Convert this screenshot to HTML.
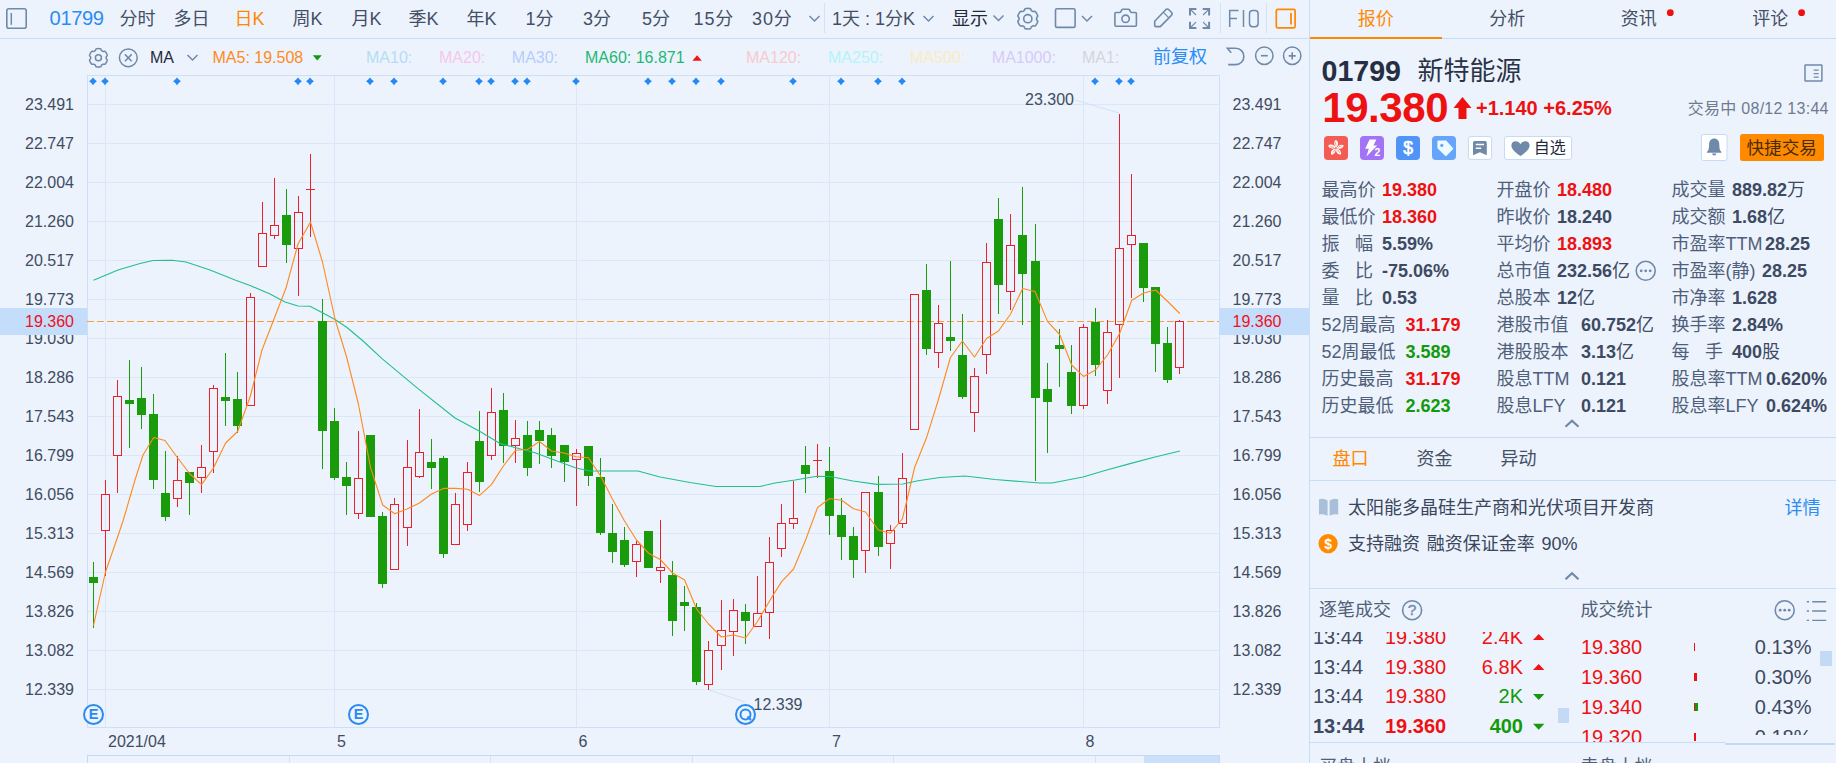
<!DOCTYPE html>
<html lang="zh-CN"><head><meta charset="utf-8"><title>01799 新特能源</title>
<style>
html,body{margin:0;padding:0}
body{width:1836px;height:763px;overflow:hidden;position:relative;background:#edf3fc;
font-family:"Liberation Sans","Noto Sans CJK SC",sans-serif;}
.t{position:absolute;height:30px;line-height:30px;white-space:nowrap}
.chart,.ov{position:absolute;left:0;top:0}
.hl{position:absolute;height:1px;background:#c7dcf6}
.vl{position:absolute;width:1px;background:#c7dcf6}
.b{font-weight:bold}
.clip{position:absolute;overflow:hidden}
.g{display:inline-block;width:15.6px}
u{text-decoration:none;font-weight:normal}
</style></head><body>
<svg class="chart" width="1310" height="763" viewBox="0 0 1310 763">
<g shape-rendering="crispEdges" stroke="#d9e7f8" stroke-width="1" fill="none">
<path d="M88 104.5H1219"/>
<path d="M88 143.5H1219"/>
<path d="M88 182.5H1219"/>
<path d="M88 221.5H1219"/>
<path d="M88 260.5H1219"/>
<path d="M88 299.5H1219"/>
<path d="M88 338.5H1219"/>
<path d="M88 377.5H1219"/>
<path d="M88 416.5H1219"/>
<path d="M88 455.5H1219"/>
<path d="M88 494.5H1219"/>
<path d="M88 533.5H1219"/>
<path d="M88 572.5H1219"/>
<path d="M88 611.5H1219"/>
<path d="M88 650.5H1219"/>
<path d="M88 689.5H1219"/>
<path d="M105.5 76V727"/>
<path d="M334.5 76V727"/>
<path d="M576.5 76V727"/>
<path d="M829.5 76V727"/>
<path d="M1083.5 76V727"/>
</g>
<g shape-rendering="crispEdges" stroke="#cde0f7" stroke-width="1" fill="none">
<path d="M87.5 75.5H1219.5V727.5H87.5Z"/>
</g>
<g shape-rendering="crispEdges">
<rect x="1144" y="756" width="75" height="7" fill="#cbdffa"/>
<path d="M87.5 763V755.5H1219.5V763" stroke="#c3daf6" fill="none"/>
<path d="M289.5 756V763" stroke="#d3e4f8" fill="none"/>
<path d="M490.5 756V763" stroke="#d3e4f8" fill="none"/>
<path d="M692.5 756V763" stroke="#d3e4f8" fill="none"/>
<path d="M893.5 756V763" stroke="#d3e4f8" fill="none"/>
<path d="M1095.5 756V763" stroke="#d3e4f8" fill="none"/>
</g>
<g fill="#2389f3">
<path d="M89.1 81.3L91.25 79.55L93 77.39999999999999L94.75 79.55L96.9 81.3L94.75 83.05L93 85.2L91.25 83.05Z"/>
<path d="M101.1 81.3L103.25 79.55L105 77.39999999999999L106.75 79.55L108.9 81.3L106.75 83.05L105 85.2L103.25 83.05Z"/>
<path d="M173.1 81.3L175.25 79.55L177 77.39999999999999L178.75 79.55L180.9 81.3L178.75 83.05L177 85.2L175.25 83.05Z"/>
<path d="M294.1 81.3L296.25 79.55L298 77.39999999999999L299.75 79.55L301.9 81.3L299.75 83.05L298 85.2L296.25 83.05Z"/>
<path d="M306.1 81.3L308.25 79.55L310 77.39999999999999L311.75 79.55L313.9 81.3L311.75 83.05L310 85.2L308.25 83.05Z"/>
<path d="M366.1 81.3L368.25 79.55L370 77.39999999999999L371.75 79.55L373.9 81.3L371.75 83.05L370 85.2L368.25 83.05Z"/>
<path d="M390.1 81.3L392.25 79.55L394 77.39999999999999L395.75 79.55L397.9 81.3L395.75 83.05L394 85.2L392.25 83.05Z"/>
<path d="M439.1 81.3L441.25 79.55L443 77.39999999999999L444.75 79.55L446.9 81.3L444.75 83.05L443 85.2L441.25 83.05Z"/>
<path d="M475.1 81.3L477.25 79.55L479 77.39999999999999L480.75 79.55L482.9 81.3L480.75 83.05L479 85.2L477.25 83.05Z"/>
<path d="M487.1 81.3L489.25 79.55L491 77.39999999999999L492.75 79.55L494.9 81.3L492.75 83.05L491 85.2L489.25 83.05Z"/>
<path d="M511.1 81.3L513.25 79.55L515 77.39999999999999L516.75 79.55L518.9 81.3L516.75 83.05L515 85.2L513.25 83.05Z"/>
<path d="M523.1 81.3L525.25 79.55L527 77.39999999999999L528.75 79.55L530.9 81.3L528.75 83.05L527 85.2L525.25 83.05Z"/>
<path d="M572.1 81.3L574.25 79.55L576 77.39999999999999L577.75 79.55L579.9 81.3L577.75 83.05L576 85.2L574.25 83.05Z"/>
<path d="M644.1 81.3L646.25 79.55L648 77.39999999999999L649.75 79.55L651.9 81.3L649.75 83.05L648 85.2L646.25 83.05Z"/>
<path d="M668.1 81.3L670.25 79.55L672 77.39999999999999L673.75 79.55L675.9 81.3L673.75 83.05L672 85.2L670.25 83.05Z"/>
<path d="M692.1 81.3L694.25 79.55L696 77.39999999999999L697.75 79.55L699.9 81.3L697.75 83.05L696 85.2L694.25 83.05Z"/>
<path d="M717.1 81.3L719.25 79.55L721 77.39999999999999L722.75 79.55L724.9 81.3L722.75 83.05L721 85.2L719.25 83.05Z"/>
<path d="M789.1 81.3L791.25 79.55L793 77.39999999999999L794.75 79.55L796.9 81.3L794.75 83.05L793 85.2L791.25 83.05Z"/>
<path d="M837.1 81.3L839.25 79.55L841 77.39999999999999L842.75 79.55L844.9 81.3L842.75 83.05L841 85.2L839.25 83.05Z"/>
<path d="M874.1 81.3L876.25 79.55L878 77.39999999999999L879.75 79.55L881.9 81.3L879.75 83.05L878 85.2L876.25 83.05Z"/>
<path d="M898.1 81.3L900.25 79.55L902 77.39999999999999L903.75 79.55L905.9 81.3L903.75 83.05L902 85.2L900.25 83.05Z"/>
<path d="M1091.1 81.3L1093.25 79.55L1095 77.39999999999999L1096.75 79.55L1098.9 81.3L1096.75 83.05L1095 85.2L1093.25 83.05Z"/>
<path d="M1115.1 81.3L1117.25 79.55L1119 77.39999999999999L1120.75 79.55L1122.9 81.3L1120.75 83.05L1119 85.2L1117.25 83.05Z"/>
<path d="M1127.1 81.3L1129.25 79.55L1131 77.39999999999999L1132.75 79.55L1134.9 81.3L1132.75 83.05L1131 85.2L1129.25 83.05Z"/>
</g>
<path d="M87 321.5H1219" stroke="#f2a043" stroke-width="1" stroke-dasharray="7 3" shape-rendering="crispEdges" fill="none"/>
<g shape-rendering="crispEdges">
<rect x="93" y="562" width="1" height="66" fill="#1a9b0b"/>
<rect x="89" y="577" width="9" height="6" fill="#1a9b0b"/>
<rect x="105" y="480" width="1" height="14" fill="#e8212a"/>
<rect x="105" y="531" width="1" height="45" fill="#e8212a"/>
<rect x="101.5" y="494.5" width="8" height="36" fill="none" stroke="#e8212a" stroke-width="1"/>
<rect x="117" y="380" width="1" height="16" fill="#e8212a"/>
<rect x="117" y="456" width="1" height="37" fill="#e8212a"/>
<rect x="113.5" y="396.5" width="8" height="59" fill="none" stroke="#e8212a" stroke-width="1"/>
<rect x="129" y="360" width="1" height="88" fill="#1a9b0b"/>
<rect x="125" y="400" width="9" height="4" fill="#1a9b0b"/>
<rect x="141" y="367" width="1" height="62" fill="#1a9b0b"/>
<rect x="137" y="398" width="9" height="17" fill="#1a9b0b"/>
<rect x="153" y="394" width="1" height="95" fill="#1a9b0b"/>
<rect x="149" y="414" width="9" height="66" fill="#1a9b0b"/>
<rect x="165" y="451" width="1" height="70" fill="#1a9b0b"/>
<rect x="161" y="493" width="9" height="24" fill="#1a9b0b"/>
<rect x="177" y="456" width="1" height="24" fill="#e8212a"/>
<rect x="177" y="499" width="1" height="8" fill="#e8212a"/>
<rect x="173.5" y="480.5" width="8" height="18" fill="none" stroke="#e8212a" stroke-width="1"/>
<rect x="189" y="472" width="1" height="43" fill="#1a9b0b"/>
<rect x="185" y="472" width="9" height="11" fill="#1a9b0b"/>
<rect x="201" y="445" width="1" height="22" fill="#e8212a"/>
<rect x="201" y="478" width="1" height="15" fill="#e8212a"/>
<rect x="197.5" y="467.5" width="8" height="10" fill="none" stroke="#e8212a" stroke-width="1"/>
<rect x="213" y="385" width="1" height="3" fill="#e8212a"/>
<rect x="213" y="452" width="1" height="21" fill="#e8212a"/>
<rect x="209.5" y="388.5" width="8" height="63" fill="none" stroke="#e8212a" stroke-width="1"/>
<rect x="225" y="353" width="1" height="73" fill="#1a9b0b"/>
<rect x="221" y="397" width="9" height="4" fill="#1a9b0b"/>
<rect x="237" y="372" width="1" height="61" fill="#1a9b0b"/>
<rect x="233" y="399" width="9" height="27" fill="#1a9b0b"/>
<rect x="250" y="293" width="1" height="4" fill="#e8212a"/>
<rect x="246.5" y="297.5" width="8" height="108" fill="none" stroke="#e8212a" stroke-width="1"/>
<rect x="262" y="202" width="1" height="31" fill="#e8212a"/>
<rect x="258.5" y="233.5" width="8" height="33" fill="none" stroke="#e8212a" stroke-width="1"/>
<rect x="274" y="178" width="1" height="47" fill="#e8212a"/>
<rect x="274" y="236" width="1" height="3" fill="#e8212a"/>
<rect x="270.5" y="225.5" width="8" height="10" fill="none" stroke="#e8212a" stroke-width="1"/>
<rect x="286" y="189" width="1" height="74" fill="#1a9b0b"/>
<rect x="282" y="215" width="9" height="30" fill="#1a9b0b"/>
<rect x="298" y="196" width="1" height="16" fill="#e8212a"/>
<rect x="298" y="249" width="1" height="47" fill="#e8212a"/>
<rect x="294.5" y="212.5" width="8" height="36" fill="none" stroke="#e8212a" stroke-width="1"/>
<rect x="310" y="154" width="1" height="35" fill="#e8212a"/>
<rect x="310" y="189" width="1" height="48" fill="#e8212a"/>
<rect x="306" y="189" width="9" height="1" fill="#e8212a"/>
<rect x="322" y="299" width="1" height="170" fill="#1a9b0b"/>
<rect x="318" y="321" width="9" height="110" fill="#1a9b0b"/>
<rect x="334" y="408" width="1" height="72" fill="#1a9b0b"/>
<rect x="330" y="421" width="9" height="57" fill="#1a9b0b"/>
<rect x="346" y="462" width="1" height="53" fill="#1a9b0b"/>
<rect x="342" y="477" width="9" height="9" fill="#1a9b0b"/>
<rect x="358" y="431" width="1" height="47" fill="#e8212a"/>
<rect x="358" y="514" width="1" height="5" fill="#e8212a"/>
<rect x="354.5" y="478.5" width="8" height="35" fill="none" stroke="#e8212a" stroke-width="1"/>
<rect x="370" y="435" width="1" height="82" fill="#1a9b0b"/>
<rect x="366" y="435" width="9" height="82" fill="#1a9b0b"/>
<rect x="382" y="512" width="1" height="76" fill="#1a9b0b"/>
<rect x="378" y="516" width="9" height="68" fill="#1a9b0b"/>
<rect x="394" y="498" width="1" height="6" fill="#e8212a"/>
<rect x="390.5" y="504.5" width="8" height="65" fill="none" stroke="#e8212a" stroke-width="1"/>
<rect x="407" y="440" width="1" height="27" fill="#e8212a"/>
<rect x="407" y="528" width="1" height="18" fill="#e8212a"/>
<rect x="403.5" y="467.5" width="8" height="60" fill="none" stroke="#e8212a" stroke-width="1"/>
<rect x="419" y="409" width="1" height="43" fill="#e8212a"/>
<rect x="419" y="477" width="1" height="1" fill="#e8212a"/>
<rect x="415.5" y="452.5" width="8" height="24" fill="none" stroke="#e8212a" stroke-width="1"/>
<rect x="431" y="439" width="1" height="50" fill="#1a9b0b"/>
<rect x="427" y="462" width="9" height="6" fill="#1a9b0b"/>
<rect x="443" y="456" width="1" height="102" fill="#1a9b0b"/>
<rect x="439" y="458" width="9" height="96" fill="#1a9b0b"/>
<rect x="455" y="493" width="1" height="11" fill="#e8212a"/>
<rect x="451.5" y="504.5" width="8" height="40" fill="none" stroke="#e8212a" stroke-width="1"/>
<rect x="467" y="462" width="1" height="10" fill="#e8212a"/>
<rect x="467" y="525" width="1" height="6" fill="#e8212a"/>
<rect x="463.5" y="472.5" width="8" height="52" fill="none" stroke="#e8212a" stroke-width="1"/>
<rect x="479" y="411" width="1" height="81" fill="#1a9b0b"/>
<rect x="475" y="441" width="9" height="41" fill="#1a9b0b"/>
<rect x="491" y="388" width="1" height="24" fill="#e8212a"/>
<rect x="491" y="456" width="1" height="4" fill="#e8212a"/>
<rect x="487.5" y="412.5" width="8" height="43" fill="none" stroke="#e8212a" stroke-width="1"/>
<rect x="503" y="393" width="1" height="70" fill="#1a9b0b"/>
<rect x="499" y="410" width="9" height="36" fill="#1a9b0b"/>
<rect x="515" y="420" width="1" height="18" fill="#e8212a"/>
<rect x="515" y="446" width="1" height="17" fill="#e8212a"/>
<rect x="511.5" y="438.5" width="8" height="7" fill="none" stroke="#e8212a" stroke-width="1"/>
<rect x="527" y="421" width="1" height="55" fill="#1a9b0b"/>
<rect x="523" y="435" width="9" height="33" fill="#1a9b0b"/>
<rect x="539" y="421" width="1" height="43" fill="#1a9b0b"/>
<rect x="535" y="430" width="9" height="11" fill="#1a9b0b"/>
<rect x="551" y="428" width="1" height="40" fill="#1a9b0b"/>
<rect x="547" y="435" width="9" height="21" fill="#1a9b0b"/>
<rect x="564" y="445" width="1" height="37" fill="#1a9b0b"/>
<rect x="560" y="445" width="9" height="17" fill="#1a9b0b"/>
<rect x="576" y="449" width="1" height="4" fill="#e8212a"/>
<rect x="576" y="460" width="1" height="46" fill="#e8212a"/>
<rect x="572.5" y="453.5" width="8" height="6" fill="none" stroke="#e8212a" stroke-width="1"/>
<rect x="588" y="446" width="1" height="40" fill="#1a9b0b"/>
<rect x="584" y="446" width="9" height="30" fill="#1a9b0b"/>
<rect x="600" y="458" width="1" height="77" fill="#1a9b0b"/>
<rect x="596" y="477" width="9" height="56" fill="#1a9b0b"/>
<rect x="612" y="504" width="1" height="59" fill="#1a9b0b"/>
<rect x="608" y="533" width="9" height="19" fill="#1a9b0b"/>
<rect x="624" y="527" width="1" height="40" fill="#1a9b0b"/>
<rect x="620" y="540" width="9" height="25" fill="#1a9b0b"/>
<rect x="636" y="541" width="1" height="3" fill="#e8212a"/>
<rect x="636" y="562" width="1" height="15" fill="#e8212a"/>
<rect x="632.5" y="544.5" width="8" height="17" fill="none" stroke="#e8212a" stroke-width="1"/>
<rect x="648" y="531" width="1" height="37" fill="#1a9b0b"/>
<rect x="644" y="531" width="9" height="37" fill="#1a9b0b"/>
<rect x="660" y="520" width="1" height="47" fill="#e8212a"/>
<rect x="660" y="571" width="1" height="12" fill="#e8212a"/>
<rect x="656.5" y="567.5" width="8" height="3" fill="none" stroke="#e8212a" stroke-width="1"/>
<rect x="672" y="561" width="1" height="75" fill="#1a9b0b"/>
<rect x="668" y="575" width="9" height="46" fill="#1a9b0b"/>
<rect x="684" y="586" width="1" height="45" fill="#1a9b0b"/>
<rect x="680" y="602" width="9" height="4" fill="#1a9b0b"/>
<rect x="696" y="603" width="1" height="82" fill="#1a9b0b"/>
<rect x="692" y="607" width="9" height="75" fill="#1a9b0b"/>
<rect x="708" y="641" width="1" height="9" fill="#e8212a"/>
<rect x="708" y="685" width="1" height="5" fill="#e8212a"/>
<rect x="704.5" y="650.5" width="8" height="34" fill="none" stroke="#e8212a" stroke-width="1"/>
<rect x="721" y="600" width="1" height="30" fill="#e8212a"/>
<rect x="721" y="646" width="1" height="24" fill="#e8212a"/>
<rect x="717.5" y="630.5" width="8" height="15" fill="none" stroke="#e8212a" stroke-width="1"/>
<rect x="733" y="599" width="1" height="11" fill="#e8212a"/>
<rect x="733" y="632" width="1" height="24" fill="#e8212a"/>
<rect x="729.5" y="610.5" width="8" height="21" fill="none" stroke="#e8212a" stroke-width="1"/>
<rect x="745" y="604" width="1" height="40" fill="#1a9b0b"/>
<rect x="741" y="612" width="9" height="9" fill="#1a9b0b"/>
<rect x="757" y="576" width="1" height="37" fill="#e8212a"/>
<rect x="753.5" y="613.5" width="8" height="13" fill="none" stroke="#e8212a" stroke-width="1"/>
<rect x="769" y="537" width="1" height="25" fill="#e8212a"/>
<rect x="769" y="613" width="1" height="26" fill="#e8212a"/>
<rect x="765.5" y="562.5" width="8" height="50" fill="none" stroke="#e8212a" stroke-width="1"/>
<rect x="781" y="504" width="1" height="19" fill="#e8212a"/>
<rect x="781" y="549" width="1" height="8" fill="#e8212a"/>
<rect x="777.5" y="523.5" width="8" height="25" fill="none" stroke="#e8212a" stroke-width="1"/>
<rect x="793" y="481" width="1" height="37" fill="#e8212a"/>
<rect x="793" y="524" width="1" height="5" fill="#e8212a"/>
<rect x="789.5" y="518.5" width="8" height="5" fill="none" stroke="#e8212a" stroke-width="1"/>
<rect x="805" y="446" width="1" height="47" fill="#1a9b0b"/>
<rect x="801" y="465" width="9" height="9" fill="#1a9b0b"/>
<rect x="817" y="444" width="1" height="16" fill="#e8212a"/>
<rect x="817" y="460" width="1" height="18" fill="#e8212a"/>
<rect x="813" y="460" width="9" height="1" fill="#e8212a"/>
<rect x="829" y="447" width="1" height="88" fill="#1a9b0b"/>
<rect x="825" y="471" width="9" height="45" fill="#1a9b0b"/>
<rect x="841" y="498" width="1" height="62" fill="#1a9b0b"/>
<rect x="837" y="515" width="9" height="22" fill="#1a9b0b"/>
<rect x="853" y="527" width="1" height="51" fill="#1a9b0b"/>
<rect x="849" y="536" width="9" height="24" fill="#1a9b0b"/>
<rect x="865" y="551" width="1" height="22" fill="#e8212a"/>
<rect x="861.5" y="492.5" width="8" height="58" fill="none" stroke="#e8212a" stroke-width="1"/>
<rect x="878" y="476" width="1" height="80" fill="#1a9b0b"/>
<rect x="874" y="492" width="9" height="55" fill="#1a9b0b"/>
<rect x="890" y="525" width="1" height="5" fill="#e8212a"/>
<rect x="890" y="544" width="1" height="25" fill="#e8212a"/>
<rect x="886.5" y="530.5" width="8" height="13" fill="none" stroke="#e8212a" stroke-width="1"/>
<rect x="902" y="453" width="1" height="25" fill="#e8212a"/>
<rect x="902" y="524" width="1" height="4" fill="#e8212a"/>
<rect x="898.5" y="478.5" width="8" height="45" fill="none" stroke="#e8212a" stroke-width="1"/>
<rect x="910.5" y="294.5" width="8" height="135" fill="none" stroke="#e8212a" stroke-width="1"/>
<rect x="926" y="264" width="1" height="91" fill="#1a9b0b"/>
<rect x="922" y="290" width="9" height="59" fill="#1a9b0b"/>
<rect x="938" y="305" width="1" height="18" fill="#e8212a"/>
<rect x="938" y="353" width="1" height="15" fill="#e8212a"/>
<rect x="934.5" y="323.5" width="8" height="29" fill="none" stroke="#e8212a" stroke-width="1"/>
<rect x="950" y="261" width="1" height="90" fill="#1a9b0b"/>
<rect x="946" y="337" width="9" height="4" fill="#1a9b0b"/>
<rect x="962" y="314" width="1" height="85" fill="#1a9b0b"/>
<rect x="958" y="355" width="9" height="42" fill="#1a9b0b"/>
<rect x="974" y="368" width="1" height="8" fill="#e8212a"/>
<rect x="974" y="413" width="1" height="19" fill="#e8212a"/>
<rect x="970.5" y="376.5" width="8" height="36" fill="none" stroke="#e8212a" stroke-width="1"/>
<rect x="986" y="243" width="1" height="19" fill="#e8212a"/>
<rect x="986" y="355" width="1" height="19" fill="#e8212a"/>
<rect x="982.5" y="262.5" width="8" height="92" fill="none" stroke="#e8212a" stroke-width="1"/>
<rect x="998" y="198" width="1" height="116" fill="#1a9b0b"/>
<rect x="994" y="219" width="9" height="66" fill="#1a9b0b"/>
<rect x="1010" y="214" width="1" height="31" fill="#e8212a"/>
<rect x="1010" y="292" width="1" height="18" fill="#e8212a"/>
<rect x="1006.5" y="245.5" width="8" height="46" fill="none" stroke="#e8212a" stroke-width="1"/>
<rect x="1022" y="187" width="1" height="138" fill="#1a9b0b"/>
<rect x="1018" y="235" width="9" height="39" fill="#1a9b0b"/>
<rect x="1035" y="224" width="1" height="257" fill="#1a9b0b"/>
<rect x="1031" y="261" width="9" height="137" fill="#1a9b0b"/>
<rect x="1047" y="363" width="1" height="90" fill="#1a9b0b"/>
<rect x="1043" y="389" width="9" height="13" fill="#1a9b0b"/>
<rect x="1059" y="329" width="1" height="58" fill="#1a9b0b"/>
<rect x="1055" y="345" width="9" height="4" fill="#1a9b0b"/>
<rect x="1071" y="345" width="1" height="69" fill="#1a9b0b"/>
<rect x="1067" y="372" width="9" height="34" fill="#1a9b0b"/>
<rect x="1083" y="324" width="1" height="3" fill="#e8212a"/>
<rect x="1083" y="406" width="1" height="3" fill="#e8212a"/>
<rect x="1079.5" y="327.5" width="8" height="78" fill="none" stroke="#e8212a" stroke-width="1"/>
<rect x="1095" y="308" width="1" height="68" fill="#1a9b0b"/>
<rect x="1091" y="322" width="9" height="43" fill="#1a9b0b"/>
<rect x="1107" y="320" width="1" height="12" fill="#e8212a"/>
<rect x="1107" y="391" width="1" height="13" fill="#e8212a"/>
<rect x="1103.5" y="332.5" width="8" height="58" fill="none" stroke="#e8212a" stroke-width="1"/>
<rect x="1119" y="114" width="1" height="134" fill="#e8212a"/>
<rect x="1119" y="325" width="1" height="53" fill="#e8212a"/>
<rect x="1115.5" y="248.5" width="8" height="76" fill="none" stroke="#e8212a" stroke-width="1"/>
<rect x="1131" y="174" width="1" height="61" fill="#e8212a"/>
<rect x="1131" y="245" width="1" height="53" fill="#e8212a"/>
<rect x="1127.5" y="235.5" width="8" height="9" fill="none" stroke="#e8212a" stroke-width="1"/>
<rect x="1143" y="243" width="1" height="59" fill="#1a9b0b"/>
<rect x="1139" y="243" width="9" height="45" fill="#1a9b0b"/>
<rect x="1155" y="287" width="1" height="85" fill="#1a9b0b"/>
<rect x="1151" y="287" width="9" height="57" fill="#1a9b0b"/>
<rect x="1167" y="327" width="1" height="56" fill="#1a9b0b"/>
<rect x="1163" y="343" width="9" height="37" fill="#1a9b0b"/>
<rect x="1179" y="320" width="1" height="1" fill="#e8212a"/>
<rect x="1179" y="368" width="1" height="6" fill="#e8212a"/>
<rect x="1175.5" y="321.5" width="8" height="46" fill="none" stroke="#e8212a" stroke-width="1"/>
</g>
<path d="M93.5 280.3 L118.0 270.0 L140.0 263.5 L153.0 260.5 L172.0 260.3 L186.0 262.0 L210.0 270.0 L235.0 280.0 L250.0 285.5 L270.0 294.0 L285.0 302.0 L298.0 306.0 L310.0 306.3 L322.0 312.5 L335.0 319.5 L347.0 327.5 L363.0 341.0 L382.0 358.6 L418.0 388.6 L455.0 418.0 L480.0 431.5 L500.0 443.5 L515.0 447.5 L535.0 452.8 L545.0 456.5 L576.0 468.0 L590.0 471.0 L638.0 471.0 L660.0 477.0 L690.0 482.5 L716.0 486.5 L760.0 486.5 L775.0 483.0 L795.0 480.0 L817.0 476.2 L830.0 476.5 L853.0 481.0 L877.0 484.4 L903.0 484.0 L918.0 480.7 L940.0 477.5 L965.0 476.0 L995.0 479.5 L1020.0 481.5 L1040.0 483.0 L1052.0 483.0 L1083.0 477.0 L1105.0 470.5 L1130.0 463.6 L1155.0 457.0 L1180.0 451.0" stroke="#21c08c" stroke-width="1.12" fill="none" stroke-linejoin="round"/>
<path d="M93.5 625.3 L105.5 572.0 L117.6 537.0 L123.0 521.0 L135.0 480.0 L143.0 455.0 L153.7 437.5 L165.0 440.5 L177.7 458.0 L190.0 474.0 L201.5 484.6 L213.5 468.0 L225.6 443.0 L237.6 431.5 L250.4 396.0 L262.0 350.0 L274.4 318.0 L286.0 288.0 L298.0 244.0 L310.5 222.0 L322.5 262.0 L335.0 319.0 L346.6 357.0 L358.4 404.0 L370.6 467.8 L382.7 505.0 L394.7 513.7 L407.0 509.0 L419.5 503.0 L431.5 494.0 L443.6 488.4 L455.6 488.4 L467.6 489.3 L479.6 495.4 L491.4 484.6 L503.4 466.0 L515.5 450.3 L527.5 449.5 L539.5 441.5 L551.5 451.0 L564.0 453.0 L576.0 456.7 L588.4 457.7 L600.6 476.0 L612.4 499.0 L624.5 521.0 L636.5 540.0 L648.5 553.2 L660.5 559.7 L672.6 573.0 L684.6 580.0 L696.6 609.0 L708.6 624.0 L721.4 637.0 L733.4 635.0 L745.5 638.0 L757.5 621.5 L769.5 601.0 L781.6 581.6 L793.6 569.0 L805.6 540.0 L817.6 507.5 L829.7 498.5 L841.7 500.3 L853.5 508.8 L865.5 512.0 L878.3 530.0 L890.3 533.3 L902.3 519.0 L907.0 500.0 L914.6 467.5 L926.5 437.8 L938.6 399.0 L950.4 357.5 L962.4 341.0 L974.5 357.0 L986.5 338.5 L998.5 331.0 L1010.6 314.0 L1022.6 288.5 L1035.0 291.5 L1047.6 321.6 L1059.7 334.5 L1071.7 365.0 L1083.5 376.4 L1095.5 370.0 L1107.5 355.0 L1119.6 333.5 L1131.6 300.5 L1143.6 293.0 L1155.6 290.0 L1167.7 301.5 L1179.7 313.5" stroke="#ff8a1f" stroke-width="1.12" fill="none" stroke-linejoin="round"/>
<path d="M1075 100L1119 113" stroke="#cfe2f8" stroke-width="1" fill="none"/>
<path d="M709 690L745 702" stroke="#cfe2f8" stroke-width="1" fill="none"/>
<rect x="0" y="308" width="87" height="27" fill="#c3ddfb" shape-rendering="crispEdges"/>
<rect x="1219" y="308" width="90" height="27" fill="#c3ddfb" shape-rendering="crispEdges"/>
<g font-family="'Liberation Sans',sans-serif" font-size="16" fill="#404c62">
<text x="25" y="109.7">23.491</text>
<text x="1232.5" y="109.7">23.491</text>
<text x="25" y="148.7">22.747</text>
<text x="1232.5" y="148.7">22.747</text>
<text x="25" y="187.7">22.004</text>
<text x="1232.5" y="187.7">22.004</text>
<text x="25" y="226.7">21.260</text>
<text x="1232.5" y="226.7">21.260</text>
<text x="25" y="265.7">20.517</text>
<text x="1232.5" y="265.7">20.517</text>
<text x="25" y="304.7">19.773</text>
<text x="1232.5" y="304.7">19.773</text>
<text x="25" y="343.7" clip-path="url(#cl)">19.030</text>
<text x="1232.5" y="343.7" clip-path="url(#cl)">19.030</text>
<text x="25" y="382.7">18.286</text>
<text x="1232.5" y="382.7">18.286</text>
<text x="25" y="421.7">17.543</text>
<text x="1232.5" y="421.7">17.543</text>
<text x="25" y="460.7">16.799</text>
<text x="1232.5" y="460.7">16.799</text>
<text x="25" y="499.7">16.056</text>
<text x="1232.5" y="499.7">16.056</text>
<text x="25" y="538.7">15.313</text>
<text x="1232.5" y="538.7">15.313</text>
<text x="25" y="577.7">14.569</text>
<text x="1232.5" y="577.7">14.569</text>
<text x="25" y="616.7">13.826</text>
<text x="1232.5" y="616.7">13.826</text>
<text x="25" y="655.7">13.082</text>
<text x="1232.5" y="655.7">13.082</text>
<text x="25" y="694.7">12.339</text>
<text x="1232.5" y="694.7">12.339</text>
<text x="1025" y="105.2">23.300</text>
<text x="753.5" y="710">12.339</text>
<text x="108" y="747">2021/04</text>
<text x="337" y="747">5</text>
<text x="578.5" y="747">6</text>
<text x="832" y="747">7</text>
<text x="1085.5" y="747">8</text>
</g>
<defs><clipPath id="cl"><rect x="0" y="335" width="1310" height="30"/></clipPath></defs>
<g font-family="'Liberation Sans',sans-serif" font-size="16" fill="#ee1122">
<text x="25" y="326.8">19.360</text><text x="1232.5" y="326.8">19.360</text>
</g>
<circle cx="93.5" cy="714.5" r="9.5" fill="#edf4fd" stroke="#2b8af0" stroke-width="2"/>
<text x="93.5" y="719.4" text-anchor="middle" font-family="'Liberation Sans',sans-serif" font-size="14.5" font-weight="bold" fill="#2b8af0">E</text>
<circle cx="358.5" cy="714.5" r="9.5" fill="#edf4fd" stroke="#2b8af0" stroke-width="2"/>
<text x="358.5" y="719.4" text-anchor="middle" font-family="'Liberation Sans',sans-serif" font-size="14.5" font-weight="bold" fill="#2b8af0">E</text>
<circle cx="745.5" cy="714.5" r="9.5" fill="#edf4fd" stroke="#2b8af0" stroke-width="2"/>
<circle cx="745.5" cy="714.5" r="5" fill="none" stroke="#2b8af0" stroke-width="2"/>
<path d="M747.5 716.5L751 720" stroke="#2b8af0" stroke-width="2" fill="none"/>
</svg>
<div class="hl" style="left:0;top:38px;width:1836px"></div>
<div class="vl" style="left:1309px;top:0;height:763px"></div>
<div class="hl" style="left:1310px;top:37px;width:132px;height:2px;background:#ff8800"></div>
<div class="hl" style="left:1310px;top:437px;width:526px"></div>
<div class="hl" style="left:1310px;top:480px;width:526px"></div>
<div class="hl" style="left:1310px;top:588px;width:526px"></div>
<div class="hl" style="left:1310px;top:742px;width:415px"></div>
<div class="hl" style="left:1725px;top:743px;width:110px;height:2px;background:#c1d9f5"></div>
<div class="t " style="left:49.6px;top:2.8000000000000007px;font-size:20.2px;color:#2b8cf5;font-weight:normal;letter-spacing:-0.42px">01799</div>
<div class="t " style="left:119.5px;top:4px;font-size:18px;color:#444f66;font-weight:normal;">分时</div>
<div class="t " style="left:173.5px;top:4px;font-size:18px;color:#444f66;font-weight:normal;">多日</div>
<div class="t " style="left:234.6px;top:4px;font-size:18px;color:#ff8800;font-weight:normal;">日K</div>
<div class="t " style="left:292.5px;top:4px;font-size:18px;color:#444f66;font-weight:normal;">周K</div>
<div class="t " style="left:351.5px;top:4px;font-size:18px;color:#444f66;font-weight:normal;">月K</div>
<div class="t " style="left:408.5px;top:4px;font-size:18px;color:#444f66;font-weight:normal;">季K</div>
<div class="t " style="left:466.5px;top:4px;font-size:18px;color:#444f66;font-weight:normal;">年K</div>
<div class="t " style="left:525.5px;top:4px;font-size:18px;color:#444f66;font-weight:normal;">1分</div>
<div class="t " style="left:583px;top:4px;font-size:18px;color:#444f66;font-weight:normal;">3分</div>
<div class="t " style="left:642px;top:4px;font-size:18px;color:#444f66;font-weight:normal;">5分</div>
<div class="t " style="left:693.5px;top:4px;font-size:18px;color:#444f66;font-weight:normal;letter-spacing:0.9px">15分</div>
<div class="t " style="left:752px;top:4px;font-size:18px;color:#444f66;font-weight:normal;letter-spacing:0.9px">30分</div>
<div class="t " style="left:832px;top:4px;font-size:18px;color:#444f66;font-weight:normal;">1天 : 1分K</div>
<div class="t " style="left:952px;top:4px;font-size:18px;color:#1f2a3d;font-weight:normal;">显示</div>
<div class="t " style="left:150px;top:42.8px;font-size:16px;color:#1f2a3d;font-weight:normal;">MA</div>
<div class="t " style="left:212.5px;top:42.8px;font-size:16px;color:#ff8a1f;font-weight:normal;">MA5: 19.508</div>
<div class="t " style="left:366px;top:42.8px;font-size:16px;color:#b5dcf6;font-weight:normal;">MA10:</div>
<div class="t " style="left:439px;top:42.8px;font-size:16px;color:#f6c6ee;font-weight:normal;">MA20:</div>
<div class="t " style="left:511.8px;top:42.8px;font-size:16px;color:#b5cdfb;font-weight:normal;">MA30:</div>
<div class="t " style="left:585px;top:42.8px;font-size:16px;color:#1db877;font-weight:normal;">MA60: 16.871</div>
<div class="t " style="left:746px;top:42.8px;font-size:16px;color:#f8c9cf;font-weight:normal;">MA120:</div>
<div class="t " style="left:828px;top:42.8px;font-size:16px;color:#b3f3fa;font-weight:normal;">MA250:</div>
<div class="t " style="left:910px;top:42.8px;font-size:16px;color:#faebc3;font-weight:normal;">MA500:</div>
<div class="t " style="left:991.8px;top:42.8px;font-size:16px;color:#d7c9fb;font-weight:normal;">MA1000:</div>
<div class="t " style="left:1082px;top:42.8px;font-size:16px;color:#d2d6dc;font-weight:normal;">MA1:</div>
<div class="t " style="left:1153px;top:41.8px;font-size:18px;color:#2b8cf5;font-weight:normal;">前复权</div>
<div class="t" style="left:1335.75px;width:80px;text-align:center;top:4px;font-size:18px;color:#ff8800">报价</div>
<div class="t" style="left:1467.25px;width:80px;text-align:center;top:4px;font-size:18px;color:#444f66">分析</div>
<div class="t" style="left:1598.75px;width:80px;text-align:center;top:4px;font-size:18px;color:#444f66">资讯</div>
<div class="t" style="left:1730.25px;width:80px;text-align:center;top:4px;font-size:18px;color:#444f66">评论</div>
<div class="t " style="left:1321.5px;top:56px;font-size:28.6px;color:#262f42;font-weight:bold;">01799</div>
<div class="t " style="left:1417.5px;top:56px;font-size:26px;color:#2a3346;font-weight:normal;">新特能源</div>
<div class="t " style="left:1322.2px;top:93.2px;font-size:42px;color:#ee1111;font-weight:bold;height:40px;line-height:40px;margin-top:-5px;letter-spacing:-0.42px">19.380</div>
<div class="t " style="left:1476px;top:92.5px;font-size:20px;color:#ee1111;font-weight:bold;">+1.140 +6.25%</div>
<div class="t " style="right:7.2999999999999545px;top:94px;font-size:16px;color:#6e7b90;font-weight:normal;letter-spacing:0.26px">交易中 08/12 13:44</div>
<svg class="ov" width="1836" height="763" viewBox="0 0 1836 763">
<rect x="6.8" y="8.8" width="19.4" height="19.4" rx="2" fill="none" stroke="#6f89ab" stroke-width="1.6"/>
<path d="M11.3 13V24.8" stroke="#6f89ab" stroke-width="1.5"/>
<path d="M809.5 16L814.5 21L819.5 16" fill="none" stroke="#6f89ab" stroke-width="1.5"/>
<path d="M824.5 3V33" stroke="#d3e3f7" stroke-width="1"/>
<path d="M923.5 16L928.5 21L933.5 16" fill="none" stroke="#6f89ab" stroke-width="1.5"/>
<path d="M993.5 15.5L998.5 20.5L1003.5 15.5" fill="none" stroke="#6f89ab" stroke-width="1.5"/>
<path d="M1036.60 18.70L1036.60 18.85L1036.59 19.01L1036.59 19.16L1036.58 19.31L1036.57 19.47L1036.59 19.62L1036.66 19.79L1036.79 19.96L1036.94 20.15L1037.10 20.34L1037.27 20.54L1037.43 20.75L1037.57 20.96L1037.67 21.16L1037.72 21.36L1037.70 21.54L1037.65 21.71L1037.60 21.88L1037.54 22.05L1037.48 22.22L1037.42 22.39L1037.35 22.56L1037.28 22.72L1037.21 22.89L1037.13 23.05L1037.06 23.22L1036.98 23.38L1036.89 23.54L1036.81 23.69L1036.72 23.85L1036.63 24.00L1036.53 24.16L1036.44 24.31L1036.34 24.46L1036.24 24.61L1036.13 24.75L1036.03 24.90L1035.92 25.04L1035.80 25.18L1035.69 25.32L1035.57 25.46L1035.45 25.59L1035.33 25.72L1035.21 25.85L1035.06 25.96L1034.86 26.02L1034.64 26.03L1034.39 26.02L1034.13 25.98L1033.87 25.94L1033.62 25.89L1033.39 25.85L1033.17 25.83L1032.99 25.85L1032.85 25.91L1032.72 26.00L1032.59 26.08L1032.46 26.16L1032.33 26.24L1032.20 26.32L1032.07 26.40L1031.93 26.47L1031.80 26.54L1031.66 26.61L1031.52 26.68L1031.39 26.77L1031.29 26.92L1031.20 27.11L1031.12 27.34L1031.03 27.58L1030.94 27.83L1030.84 28.07L1030.73 28.29L1030.60 28.48L1030.46 28.62L1030.29 28.69L1030.12 28.74L1029.94 28.77L1029.77 28.81L1029.59 28.84L1029.41 28.87L1029.23 28.90L1029.06 28.92L1028.88 28.94L1028.70 28.96L1028.52 28.97L1028.34 28.99L1028.16 28.99L1027.98 29.00L1027.80 29.00L1027.62 29.00L1027.44 28.99L1027.26 28.99L1027.08 28.97L1026.90 28.96L1026.72 28.94L1026.54 28.92L1026.37 28.90L1026.19 28.87L1026.01 28.84L1025.83 28.81L1025.66 28.77L1025.48 28.74L1025.31 28.69L1025.14 28.62L1025.00 28.48L1024.87 28.29L1024.76 28.07L1024.66 27.83L1024.57 27.58L1024.48 27.34L1024.40 27.11L1024.31 26.92L1024.21 26.77L1024.08 26.68L1023.94 26.61L1023.80 26.54L1023.67 26.47L1023.53 26.40L1023.40 26.32L1023.27 26.24L1023.14 26.16L1023.01 26.08L1022.88 26.00L1022.75 25.91L1022.61 25.85L1022.43 25.83L1022.21 25.85L1021.98 25.89L1021.73 25.94L1021.47 25.98L1021.21 26.02L1020.96 26.03L1020.74 26.02L1020.54 25.96L1020.39 25.85L1020.27 25.72L1020.15 25.59L1020.03 25.46L1019.91 25.32L1019.80 25.18L1019.68 25.04L1019.57 24.90L1019.47 24.75L1019.36 24.61L1019.26 24.46L1019.16 24.31L1019.07 24.16L1018.97 24.00L1018.88 23.85L1018.79 23.69L1018.71 23.54L1018.62 23.38L1018.54 23.22L1018.47 23.05L1018.39 22.89L1018.32 22.72L1018.25 22.56L1018.18 22.39L1018.12 22.22L1018.06 22.05L1018.00 21.88L1017.95 21.71L1017.90 21.54L1017.88 21.36L1017.93 21.16L1018.03 20.96L1018.17 20.75L1018.33 20.54L1018.50 20.34L1018.66 20.15L1018.81 19.96L1018.94 19.79L1019.01 19.62L1019.03 19.47L1019.02 19.31L1019.01 19.16L1019.01 19.01L1019.00 18.85L1019.00 18.70L1019.00 18.55L1019.01 18.39L1019.01 18.24L1019.02 18.09L1019.03 17.93L1019.01 17.78L1018.94 17.61L1018.81 17.44L1018.66 17.25L1018.50 17.06L1018.33 16.86L1018.17 16.65L1018.03 16.44L1017.93 16.24L1017.88 16.04L1017.90 15.86L1017.95 15.69L1018.00 15.52L1018.06 15.35L1018.12 15.18L1018.18 15.01L1018.25 14.84L1018.32 14.68L1018.39 14.51L1018.47 14.35L1018.54 14.18L1018.62 14.02L1018.71 13.86L1018.79 13.71L1018.88 13.55L1018.97 13.40L1019.07 13.24L1019.16 13.09L1019.26 12.94L1019.36 12.79L1019.47 12.65L1019.57 12.50L1019.68 12.36L1019.80 12.22L1019.91 12.08L1020.03 11.94L1020.15 11.81L1020.27 11.68L1020.39 11.55L1020.54 11.44L1020.74 11.38L1020.96 11.37L1021.21 11.38L1021.47 11.42L1021.73 11.46L1021.98 11.51L1022.21 11.55L1022.43 11.57L1022.61 11.55L1022.75 11.49L1022.88 11.40L1023.01 11.32L1023.14 11.24L1023.27 11.16L1023.40 11.08L1023.53 11.00L1023.67 10.93L1023.80 10.86L1023.94 10.79L1024.08 10.72L1024.21 10.63L1024.31 10.48L1024.40 10.29L1024.48 10.06L1024.57 9.82L1024.66 9.57L1024.76 9.33L1024.87 9.11L1025.00 8.92L1025.14 8.78L1025.31 8.71L1025.48 8.66L1025.66 8.63L1025.83 8.59L1026.01 8.56L1026.19 8.53L1026.37 8.50L1026.54 8.48L1026.72 8.46L1026.90 8.44L1027.08 8.43L1027.26 8.41L1027.44 8.41L1027.62 8.40L1027.80 8.40L1027.98 8.40L1028.16 8.41L1028.34 8.41L1028.52 8.43L1028.70 8.44L1028.88 8.46L1029.06 8.48L1029.23 8.50L1029.41 8.53L1029.59 8.56L1029.77 8.59L1029.94 8.63L1030.12 8.66L1030.29 8.71L1030.46 8.78L1030.60 8.92L1030.73 9.11L1030.84 9.33L1030.94 9.57L1031.03 9.82L1031.12 10.06L1031.20 10.29L1031.29 10.48L1031.39 10.63L1031.52 10.72L1031.66 10.79L1031.80 10.86L1031.93 10.93L1032.07 11.00L1032.20 11.08L1032.33 11.16L1032.46 11.24L1032.59 11.32L1032.72 11.40L1032.85 11.49L1032.99 11.55L1033.17 11.57L1033.39 11.55L1033.62 11.51L1033.87 11.46L1034.13 11.42L1034.39 11.38L1034.64 11.37L1034.86 11.38L1035.06 11.44L1035.21 11.55L1035.33 11.68L1035.45 11.81L1035.57 11.94L1035.69 12.08L1035.80 12.22L1035.92 12.36L1036.03 12.50L1036.13 12.65L1036.24 12.79L1036.34 12.94L1036.44 13.09L1036.53 13.24L1036.63 13.40L1036.72 13.55L1036.81 13.71L1036.89 13.86L1036.98 14.02L1037.06 14.18L1037.13 14.35L1037.21 14.51L1037.28 14.68L1037.35 14.84L1037.42 15.01L1037.48 15.18L1037.54 15.35L1037.60 15.52L1037.65 15.69L1037.70 15.86L1037.72 16.04L1037.67 16.24L1037.57 16.44L1037.43 16.65L1037.27 16.86L1037.10 17.06L1036.94 17.25L1036.79 17.44L1036.66 17.61L1036.59 17.78L1036.57 17.93L1036.58 18.09L1036.59 18.24L1036.59 18.39L1036.60 18.55Z" fill="none" stroke="#6f89ab" stroke-width="1.6" stroke-linejoin="round"/><circle cx="1027.8" cy="18.7" r="4.1" fill="none" stroke="#6f89ab" stroke-width="1.6"/>
<rect x="1055.5" y="8.8" width="19.6" height="18.6" rx="1.5" fill="none" stroke="#6f89ab" stroke-width="1.6"/>
<path d="M1082 16L1087.0 21L1092 16" fill="none" stroke="#6f89ab" stroke-width="1.5"/>
<path d="M1115.9 12.5H1119.6Q1120.3 12.5 1120.7 11.8L1121.7 10Q1122.1 9.3 1122.9 9.3H1128.4Q1129.2 9.3 1129.6 10L1130.6 11.8Q1131 12.5 1131.7 12.5H1135.4Q1136.4 12.5 1136.4 13.5V25.2Q1136.4 26.2 1135.4 26.2H1115.9Q1114.9 26.2 1114.9 25.2V13.5Q1114.9 12.5 1115.9 12.5Z" fill="none" stroke="#6f89ab" stroke-width="1.6" stroke-linejoin="round"/>
<circle cx="1125.6" cy="18.8" r="3.7" fill="none" stroke="#6f89ab" stroke-width="1.6"/>
<path d="M1154.7 21.2L1165.7 9.7Q1167.2 8.3 1168.8 9.7L1171.4 12.3Q1172.8 13.8 1171.4 15.4L1160.3 26.6H1155.9Q1154.7 26.6 1154.7 25.4Z" fill="none" stroke="#6f89ab" stroke-width="1.6" stroke-linejoin="round"/>
<path d="M1163.5 12.3L1168.6 17.7" fill="none" stroke="#6f89ab" stroke-width="1.2"/>
<g fill="none" stroke="#6f89ab" stroke-width="2"><path d="M1190 15.4V9H1196.4"/><path d="M1202.7 9H1209.1V15.4"/><path d="M1190 21.7V28.1H1196.4"/><path d="M1202.7 28.1H1209.1V21.7"/></g>
<g fill="none" stroke="#6f89ab" stroke-width="1.2"><path d="M1190.6 9.6L1196 15M1208.5 9.6L1203.1 15M1190.6 27.5L1196 22.1M1208.5 27.5L1203.1 22.1"/></g>
<path d="M1220.5 3V33M1266.5 3V33" stroke="#d3e3f7" stroke-width="1"/>
<g fill="none" stroke="#6f89ab" stroke-width="1.5"><path d="M1229.7 27V10.5H1238.5M1229.7 18.5H1237"/><path d="M1243.5 10V27"/><rect x="1249.5" y="10.5" width="8.6" height="16.2" rx="3.2"/></g>
<rect x="1276.3" y="9.3" width="18.8" height="18.6" rx="1.5" fill="none" stroke="#ff8800" stroke-width="1.7"/>
<path d="M1291 13V24.5" stroke="#ff8800" stroke-width="1.8"/>
<path d="M106.20 57.80L106.20 57.94L106.20 58.07L106.19 58.21L106.18 58.34L106.17 58.48L106.19 58.62L106.26 58.77L106.38 58.92L106.52 59.09L106.68 59.26L106.84 59.44L106.99 59.63L107.12 59.81L107.21 60.00L107.26 60.17L107.24 60.34L107.20 60.49L107.15 60.64L107.10 60.80L107.05 60.95L106.99 61.10L106.93 61.25L106.87 61.39L106.80 61.54L106.74 61.69L106.67 61.83L106.60 61.98L106.52 62.12L106.45 62.26L106.37 62.40L106.29 62.54L106.20 62.68L106.12 62.81L106.03 62.94L105.94 63.08L105.84 63.21L105.75 63.34L105.65 63.46L105.55 63.59L105.45 63.71L105.34 63.84L105.24 63.96L105.13 64.07L105.02 64.19L104.88 64.28L104.71 64.33L104.50 64.34L104.27 64.32L104.04 64.29L103.80 64.24L103.57 64.19L103.36 64.15L103.17 64.13L103.00 64.14L102.87 64.19L102.76 64.27L102.65 64.34L102.53 64.41L102.42 64.49L102.30 64.55L102.18 64.62L102.06 64.69L101.94 64.75L101.82 64.81L101.70 64.87L101.59 64.96L101.50 65.09L101.42 65.27L101.35 65.47L101.27 65.70L101.20 65.93L101.11 66.15L101.02 66.35L100.90 66.53L100.77 66.66L100.63 66.73L100.47 66.76L100.31 66.80L100.16 66.83L100.00 66.86L99.84 66.89L99.68 66.91L99.52 66.93L99.36 66.95L99.20 66.96L99.04 66.98L98.88 66.99L98.72 66.99L98.56 67.00L98.40 67.00L98.24 67.00L98.08 66.99L97.92 66.99L97.76 66.98L97.60 66.96L97.44 66.95L97.28 66.93L97.12 66.91L96.96 66.89L96.80 66.86L96.64 66.83L96.49 66.80L96.33 66.76L96.17 66.73L96.03 66.66L95.90 66.53L95.78 66.35L95.69 66.15L95.60 65.93L95.53 65.70L95.45 65.47L95.38 65.27L95.30 65.09L95.21 64.96L95.10 64.87L94.98 64.81L94.86 64.75L94.74 64.69L94.62 64.62L94.50 64.55L94.38 64.49L94.27 64.41L94.15 64.34L94.04 64.27L93.93 64.19L93.80 64.14L93.63 64.13L93.44 64.15L93.23 64.19L93.00 64.24L92.76 64.29L92.53 64.32L92.30 64.34L92.09 64.33L91.92 64.28L91.78 64.19L91.67 64.07L91.56 63.96L91.46 63.84L91.35 63.71L91.25 63.59L91.15 63.46L91.05 63.34L90.96 63.21L90.86 63.08L90.77 62.94L90.68 62.81L90.60 62.68L90.51 62.54L90.43 62.40L90.35 62.26L90.28 62.12L90.20 61.98L90.13 61.83L90.06 61.69L90.00 61.54L89.93 61.39L89.87 61.25L89.81 61.10L89.75 60.95L89.70 60.80L89.65 60.64L89.60 60.49L89.56 60.34L89.54 60.17L89.59 60.00L89.68 59.81L89.81 59.63L89.96 59.44L90.12 59.26L90.28 59.09L90.42 58.92L90.54 58.77L90.61 58.62L90.63 58.48L90.62 58.34L90.61 58.21L90.60 58.07L90.60 57.94L90.60 57.80L90.60 57.66L90.60 57.53L90.61 57.39L90.62 57.26L90.63 57.12L90.61 56.98L90.54 56.83L90.42 56.68L90.28 56.51L90.12 56.34L89.96 56.16L89.81 55.97L89.68 55.79L89.59 55.60L89.54 55.43L89.56 55.26L89.60 55.11L89.65 54.96L89.70 54.80L89.75 54.65L89.81 54.50L89.87 54.35L89.93 54.21L90.00 54.06L90.06 53.91L90.13 53.77L90.20 53.62L90.28 53.48L90.35 53.34L90.43 53.20L90.51 53.06L90.60 52.92L90.68 52.79L90.77 52.66L90.86 52.52L90.96 52.39L91.05 52.26L91.15 52.14L91.25 52.01L91.35 51.89L91.46 51.76L91.56 51.64L91.67 51.53L91.78 51.41L91.92 51.32L92.09 51.27L92.30 51.26L92.53 51.28L92.76 51.31L93.00 51.36L93.23 51.41L93.44 51.45L93.63 51.47L93.80 51.46L93.93 51.41L94.04 51.33L94.15 51.26L94.27 51.19L94.38 51.11L94.50 51.05L94.62 50.98L94.74 50.91L94.86 50.85L94.98 50.79L95.10 50.73L95.21 50.64L95.30 50.51L95.38 50.33L95.45 50.13L95.53 49.90L95.60 49.67L95.69 49.45L95.78 49.25L95.90 49.07L96.03 48.94L96.17 48.87L96.33 48.84L96.49 48.80L96.64 48.77L96.80 48.74L96.96 48.71L97.12 48.69L97.28 48.67L97.44 48.65L97.60 48.64L97.76 48.62L97.92 48.61L98.08 48.61L98.24 48.60L98.40 48.60L98.56 48.60L98.72 48.61L98.88 48.61L99.04 48.62L99.20 48.64L99.36 48.65L99.52 48.67L99.68 48.69L99.84 48.71L100.00 48.74L100.16 48.77L100.31 48.80L100.47 48.84L100.63 48.87L100.77 48.94L100.90 49.07L101.02 49.25L101.11 49.45L101.20 49.67L101.27 49.90L101.35 50.13L101.42 50.33L101.50 50.51L101.59 50.64L101.70 50.73L101.82 50.79L101.94 50.85L102.06 50.91L102.18 50.98L102.30 51.05L102.42 51.11L102.53 51.19L102.65 51.26L102.76 51.33L102.87 51.41L103.00 51.46L103.17 51.47L103.36 51.45L103.57 51.41L103.80 51.36L104.04 51.31L104.27 51.28L104.50 51.26L104.71 51.27L104.88 51.32L105.02 51.41L105.13 51.53L105.24 51.64L105.34 51.76L105.45 51.89L105.55 52.01L105.65 52.14L105.75 52.26L105.84 52.39L105.94 52.52L106.03 52.66L106.12 52.79L106.20 52.92L106.29 53.06L106.37 53.20L106.45 53.34L106.52 53.48L106.60 53.62L106.67 53.77L106.74 53.91L106.80 54.06L106.87 54.21L106.93 54.35L106.99 54.50L107.05 54.65L107.10 54.80L107.15 54.96L107.20 55.11L107.24 55.26L107.26 55.43L107.21 55.60L107.12 55.79L106.99 55.97L106.84 56.16L106.68 56.34L106.52 56.51L106.38 56.68L106.26 56.83L106.19 56.98L106.17 57.12L106.18 57.26L106.19 57.39L106.20 57.53L106.20 57.66Z" fill="none" stroke="#6f89ab" stroke-width="1.5" stroke-linejoin="round"/><circle cx="98.4" cy="57.8" r="3.0" fill="none" stroke="#6f89ab" stroke-width="1.5"/>
<circle cx="128.3" cy="57.8" r="8.9" fill="none" stroke="#6f89ab" stroke-width="1.5"/>
<path d="M124.9 54.4L131.7 61.2M131.7 54.4L124.9 61.2" stroke="#6f89ab" stroke-width="1.5"/>
<path d="M187.5 55L192.5 60L197.5 55" fill="none" stroke="#6f89ab" stroke-width="1.5"/>
<path d="M312.8 55.3H321.8L317.3 60.4Z" fill="#139a0c"/>
<path d="M692.4 60.8H701.8L697.1 55.2Z" fill="#f01414"/>
<path d="M1231.2 52.8L1227.4 48.3H1235.5C1246.6 48.3 1246.6 64.6 1235.5 64.6H1228.2" fill="none" stroke="#6f89ab" stroke-width="1.6" stroke-linejoin="miter"/>
<circle cx="1264.3" cy="55.7" r="8.7" fill="none" stroke="#6f89ab" stroke-width="1.5"/><path d="M1260.9 55.7H1267.8" stroke="#6f89ab" stroke-width="1.6"/>
<circle cx="1292.2" cy="55.7" r="8.7" fill="none" stroke="#6f89ab" stroke-width="1.5"/><path d="M1288.7 55.9H1295.7M1292.2 52.3V59.6" stroke="#6f89ab" stroke-width="1.6"/>
<circle cx="1670.3" cy="12.7" r="3.4" fill="#ee1111"/><circle cx="1801.6" cy="12.7" r="3.4" fill="#ee1111"/>
<rect x="1805" y="65.1" width="16.9" height="15.9" rx="0.5" fill="none" stroke="#6f89ab" stroke-width="1.5"/>
<path d="M1813.7 70.1H1818.7M1813.7 73.6H1818.7M1813.7 77.2H1818.7" stroke="#6f89ab" stroke-width="1.3"/>
<path d="M1462.5 96.9L1471.5 108.1H1466.5V119H1458.5V108.1H1453.5Z" fill="#ee1111"/>
<rect x="1324" y="136" width="24" height="24" rx="4" fill="#f35c54"/>
<g transform="translate(1336 148) rotate(-82)"><path d="M0.6 0C2.4 -2.6 6 -3.2 8 -1.4C7.2 1.6 3.2 2.4 0.6 0Z" fill="#fff"/><path d="M2.2 -0.2Q4.2 -1.5 6 -1" fill="none" stroke="#f35c54" stroke-width="0.6"/></g><g transform="translate(1336 148) rotate(-10)"><path d="M0.6 0C2.4 -2.6 6 -3.2 8 -1.4C7.2 1.6 3.2 2.4 0.6 0Z" fill="#fff"/><path d="M2.2 -0.2Q4.2 -1.5 6 -1" fill="none" stroke="#f35c54" stroke-width="0.6"/></g><g transform="translate(1336 148) rotate(62)"><path d="M0.6 0C2.4 -2.6 6 -3.2 8 -1.4C7.2 1.6 3.2 2.4 0.6 0Z" fill="#fff"/><path d="M2.2 -0.2Q4.2 -1.5 6 -1" fill="none" stroke="#f35c54" stroke-width="0.6"/></g><g transform="translate(1336 148) rotate(134)"><path d="M0.6 0C2.4 -2.6 6 -3.2 8 -1.4C7.2 1.6 3.2 2.4 0.6 0Z" fill="#fff"/><path d="M2.2 -0.2Q4.2 -1.5 6 -1" fill="none" stroke="#f35c54" stroke-width="0.6"/></g><g transform="translate(1336 148) rotate(206)"><path d="M0.6 0C2.4 -2.6 6 -3.2 8 -1.4C7.2 1.6 3.2 2.4 0.6 0Z" fill="#fff"/><path d="M2.2 -0.2Q4.2 -1.5 6 -1" fill="none" stroke="#f35c54" stroke-width="0.6"/></g>
<rect x="1360" y="136" width="24" height="24" rx="4" fill="#a273f4"/>
<path d="M1369.6 139.6H1376.4L1373.4 145.6H1377.2L1366.4 156.4L1368.8 148.8H1365.2Z" fill="#fff"/>
<text x="1374.6" y="155.8" font-family="'Liberation Sans',sans-serif" font-size="10.5" font-weight="bold" fill="#fff">2</text>
<rect x="1396" y="136" width="24" height="24" rx="4" fill="#4f94f6"/>
<text x="1408.2" y="154" text-anchor="middle" font-family="'Liberation Sans',sans-serif" font-size="17.5" fill="#fff" stroke="#fff" stroke-width="0.7">$</text>
<rect x="1432" y="136" width="24" height="24" rx="4" fill="#64a4fa"/>
<path d="M1437.4 141.6Q1437.4 140.6 1438.4 140.6H1446.2L1452.9 147.9Q1453.5 148.6 1452.9 149.3L1446.6 155.8Q1445.9 156.5 1445.2 155.8L1437.4 148.2Z" fill="#ecfbff"/>
<circle cx="1441.8" cy="145.4" r="1.6" fill="#64a4fa"/>
<rect x="1468.5" y="136.5" width="23" height="23" rx="2.5" fill="#fff" stroke="#c5dbf6" stroke-width="1"/>
<path d="M1473 142.6Q1473 141 1474.6 141H1485.2Q1486.8 141 1486.8 142.6V155.2L1479.9 152.2L1473 155.2Z" fill="#6f89ab"/>
<path d="M1475.8 144.6H1484M1475.8 148.3H1481.2" stroke="#fff" stroke-width="1.5"/>
<rect x="1504.5" y="136.5" width="67" height="23" rx="2.5" fill="#fff" stroke="#c5dbf6" stroke-width="1"/>
<path d="M1520.5 156C1514 151.3 1511.4 148.6 1511.4 145.4C1511.4 142.8 1513.3 141.2 1515.6 141.2C1517.6 141.2 1519.6 142.2 1520.5 144.2C1521.4 142.2 1523.4 141.2 1525.4 141.2C1527.7 141.2 1529.6 142.8 1529.6 145.4C1529.6 148.6 1527 151.3 1520.5 156Z" fill="#6f89ab"/>
<rect x="1701.5" y="134.5" width="25.5" height="26" rx="2" fill="#fff" stroke="#c5dbf6" stroke-width="1"/>
<path d="M1714.2 138.5C1711 138.5 1709.1 141.1 1709.1 144.4C1709.1 148.4 1708.6 150.3 1706.9 152V152.7H1721.5V152C1719.8 150.3 1719.3 148.4 1719.3 144.4C1719.3 141.1 1717.4 138.5 1714.2 138.5ZM1712.1 153.5A2.1 2.1 0 0 0 1716.3 153.5Z" fill="#6f89ab"/>
<rect x="1740" y="134" width="84" height="27" rx="2.5" fill="#ff8a00"/>
<circle cx="1645.7" cy="270.8" r="9.5" fill="none" stroke="#6f89ab" stroke-width="1.6"/>
<g fill="#6f89ab"><circle cx="1641.2" cy="270.8" r="1.4"/><circle cx="1645.7" cy="270.8" r="1.4"/><circle cx="1650.2" cy="270.8" r="1.4"/></g>
<path d="M1565.5 426.8L1572.0 420.8L1578.5 426.8" fill="none" stroke="#6f89ab" stroke-width="2.2"/>
<path d="M1565.5 579.3L1572.0 573.3L1578.5 579.3" fill="none" stroke="#6f89ab" stroke-width="2.2"/>
<path d="M1319 499.2Q1324 498 1327.6 500.4V515.8Q1324 513.6 1319 514.6Z M1338.2 499.2Q1333.2 498 1329.6 500.4V515.8Q1333.2 513.6 1338.2 514.6Z" fill="#a9bed8"/>
<circle cx="1328.1" cy="543.6" r="9.6" fill="#ff8a00"/>
<text x="1328.1" y="548.6" text-anchor="middle" font-family="'Liberation Sans',sans-serif" font-size="14" font-weight="bold" fill="#fff">$</text>
<circle cx="1412.1" cy="610.2" r="9.5" fill="none" stroke="#6f89ab" stroke-width="1.6"/>
<text x="1412.1" y="615.4" text-anchor="middle" font-family="'Liberation Sans',sans-serif" font-size="15.5" fill="#6f89ab" stroke="#6f89ab" stroke-width="0.35">?</text>
<circle cx="1784.7" cy="610.2" r="9.5" fill="none" stroke="#6f89ab" stroke-width="1.6"/>
<g fill="#6f89ab"><circle cx="1780.2" cy="610.2" r="1.4"/><circle cx="1784.7" cy="610.2" r="1.4"/><circle cx="1789.2" cy="610.2" r="1.4"/></g>
<path d="M1812.2 601.8H1826.2M1812.2 611H1826.2M1812.2 620.4H1826.2" stroke="#6f89ab" stroke-width="1.4"/>
<path d="M1806.8 601.8H1809M1806.8 611H1809M1806.8 620.4H1809" stroke="#6f89ab" stroke-width="1.4"/>
<path d="M1533 640H1544.4L1538.7 634Z" fill="#f01414" clip-path="url(#rows)"/>
<path d="M1533 670H1544.4L1538.7 664Z" fill="#f01414" clip-path="url(#rows)"/>
<path d="M1533 694H1544.4L1538.7 700Z" fill="#139a0c"/>
<path d="M1533 723.7H1544.4L1538.7 729.7Z" fill="#139a0c"/>
<defs><clipPath id="rows"><rect x="1310" y="632" width="526" height="120"/></clipPath></defs>
<g shape-rendering="crispEdges">
<rect x="1693.5" y="643" width="1" height="8" fill="#ee1111"/>
<rect x="1693.5" y="673" width="3" height="8" fill="#ee1111"/>
<rect x="1693.5" y="703" width="1" height="8" fill="#ee1111"/><rect x="1694.5" y="703" width="3" height="8" fill="#139a0c"/>
<rect x="1693.5" y="733" width="2" height="8" fill="#ee1111"/>
<rect x="1558" y="708" width="11" height="15" fill="#c3d9f6"/>
<rect x="1820" y="651" width="12" height="15" fill="#c3d9f6"/>
</g>
</svg>
<div class="t " style="left:1533.8px;top:133px;font-size:16px;color:#1f2a3d;font-weight:normal;">自选</div>
<div class="t " style="left:1746.5px;top:132.5px;font-size:17.6px;color:#4a2c08;font-weight:normal;">快捷交易</div>
<div class="t " style="left:1321.5px;top:174.5px;font-size:18px;color:#4f5f7b;font-weight:normal;">最高价</div>
<div class="t " style="left:1382px;top:175.0px;font-size:18px;color:#ee1111;font-weight:bold;">19.380</div>
<div class="t " style="left:1496.5px;top:174.5px;font-size:18px;color:#4f5f7b;font-weight:normal;">开盘价</div>
<div class="t " style="left:1557px;top:175.0px;font-size:18px;color:#ee1111;font-weight:bold;">18.480</div>
<div class="t " style="left:1671.5px;top:174.5px;font-size:18px;color:#4f5f7b;font-weight:normal;">成交量</div>
<div class="t " style="left:1732px;top:175.0px;font-size:18px;color:#3d4a63;font-weight:bold;">889.82<u>万</u></div>
<div class="t " style="left:1321.5px;top:201.5px;font-size:18px;color:#4f5f7b;font-weight:normal;">最低价</div>
<div class="t " style="left:1382px;top:202.0px;font-size:18px;color:#ee1111;font-weight:bold;">18.360</div>
<div class="t " style="left:1496.5px;top:201.5px;font-size:18px;color:#4f5f7b;font-weight:normal;">昨收价</div>
<div class="t " style="left:1557px;top:202.0px;font-size:18px;color:#3d4a63;font-weight:bold;">18.240</div>
<div class="t " style="left:1671.5px;top:201.5px;font-size:18px;color:#4f5f7b;font-weight:normal;">成交额</div>
<div class="t " style="left:1732px;top:202.0px;font-size:18px;color:#3d4a63;font-weight:bold;">1.68<u>亿</u></div>
<div class="t " style="left:1321.5px;top:228.5px;font-size:18px;color:#4f5f7b;font-weight:normal;">振<i class=g></i>幅</div>
<div class="t " style="left:1382px;top:229.0px;font-size:18px;color:#3d4a63;font-weight:bold;">5.59%</div>
<div class="t " style="left:1496.5px;top:228.5px;font-size:18px;color:#4f5f7b;font-weight:normal;">平均价</div>
<div class="t " style="left:1557px;top:229.0px;font-size:18px;color:#ee1111;font-weight:bold;">18.893</div>
<div class="t " style="left:1671.5px;top:228.5px;font-size:18px;color:#4f5f7b;font-weight:normal;">市盈率TTM</div>
<div class="t " style="left:1765px;top:229.0px;font-size:18px;color:#3d4a63;font-weight:bold;">28.25</div>
<div class="t " style="left:1321.5px;top:255.5px;font-size:18px;color:#4f5f7b;font-weight:normal;">委<i class=g></i>比</div>
<div class="t " style="left:1382px;top:256.0px;font-size:18px;color:#3d4a63;font-weight:bold;">-75.06%</div>
<div class="t " style="left:1496.5px;top:255.5px;font-size:18px;color:#4f5f7b;font-weight:normal;">总市值</div>
<div class="t " style="left:1557px;top:256.0px;font-size:18px;color:#3d4a63;font-weight:bold;">232.56<u>亿</u></div>
<div class="t " style="left:1671.5px;top:255.5px;font-size:18px;color:#4f5f7b;font-weight:normal;">市盈率(静)</div>
<div class="t " style="left:1762px;top:256.0px;font-size:18px;color:#3d4a63;font-weight:bold;">28.25</div>
<div class="t " style="left:1321.5px;top:282.5px;font-size:18px;color:#4f5f7b;font-weight:normal;">量<i class=g></i>比</div>
<div class="t " style="left:1382px;top:283.0px;font-size:18px;color:#3d4a63;font-weight:bold;">0.53</div>
<div class="t " style="left:1496.5px;top:282.5px;font-size:18px;color:#4f5f7b;font-weight:normal;">总股本</div>
<div class="t " style="left:1557px;top:283.0px;font-size:18px;color:#3d4a63;font-weight:bold;">12<u>亿</u></div>
<div class="t " style="left:1671.5px;top:282.5px;font-size:18px;color:#4f5f7b;font-weight:normal;">市净率</div>
<div class="t " style="left:1732px;top:283.0px;font-size:18px;color:#3d4a63;font-weight:bold;">1.628</div>
<div class="t " style="left:1321.5px;top:309.5px;font-size:18px;color:#4f5f7b;font-weight:normal;">52周最高</div>
<div class="t " style="left:1405.5px;top:310.0px;font-size:18px;color:#ee1111;font-weight:bold;">31.179</div>
<div class="t " style="left:1496.5px;top:309.5px;font-size:18px;color:#4f5f7b;font-weight:normal;">港股市值</div>
<div class="t " style="left:1581px;top:310.0px;font-size:18px;color:#3d4a63;font-weight:bold;">60.752<u>亿</u></div>
<div class="t " style="left:1671.5px;top:309.5px;font-size:18px;color:#4f5f7b;font-weight:normal;">换手率</div>
<div class="t " style="left:1732px;top:310.0px;font-size:18px;color:#3d4a63;font-weight:bold;">2.84%</div>
<div class="t " style="left:1321.5px;top:336.5px;font-size:18px;color:#4f5f7b;font-weight:normal;">52周最低</div>
<div class="t " style="left:1405.5px;top:337.0px;font-size:18px;color:#139a0c;font-weight:bold;">3.589</div>
<div class="t " style="left:1496.5px;top:336.5px;font-size:18px;color:#4f5f7b;font-weight:normal;">港股股本</div>
<div class="t " style="left:1581px;top:337.0px;font-size:18px;color:#3d4a63;font-weight:bold;">3.13<u>亿</u></div>
<div class="t " style="left:1671.5px;top:336.5px;font-size:18px;color:#4f5f7b;font-weight:normal;">每<i class=g></i>手</div>
<div class="t " style="left:1732px;top:337.0px;font-size:18px;color:#3d4a63;font-weight:bold;">400<u>股</u></div>
<div class="t " style="left:1321.5px;top:363.5px;font-size:18px;color:#4f5f7b;font-weight:normal;">历史最高</div>
<div class="t " style="left:1405.5px;top:364.0px;font-size:18px;color:#ee1111;font-weight:bold;">31.179</div>
<div class="t " style="left:1496.5px;top:363.5px;font-size:18px;color:#4f5f7b;font-weight:normal;">股息TTM</div>
<div class="t " style="left:1581px;top:364.0px;font-size:18px;color:#3d4a63;font-weight:bold;">0.121</div>
<div class="t " style="left:1671.5px;top:363.5px;font-size:18px;color:#4f5f7b;font-weight:normal;">股息率TTM</div>
<div class="t " style="left:1766px;top:364.0px;font-size:18px;color:#3d4a63;font-weight:bold;">0.620%</div>
<div class="t " style="left:1321.5px;top:390.5px;font-size:18px;color:#4f5f7b;font-weight:normal;">历史最低</div>
<div class="t " style="left:1405.5px;top:391.0px;font-size:18px;color:#139a0c;font-weight:bold;">2.623</div>
<div class="t " style="left:1496.5px;top:390.5px;font-size:18px;color:#4f5f7b;font-weight:normal;">股息LFY</div>
<div class="t " style="left:1581px;top:391.0px;font-size:18px;color:#3d4a63;font-weight:bold;">0.121</div>
<div class="t " style="left:1671.5px;top:390.5px;font-size:18px;color:#4f5f7b;font-weight:normal;">股息率LFY</div>
<div class="t " style="left:1766px;top:391.0px;font-size:18px;color:#3d4a63;font-weight:bold;">0.624%</div>
<div class="t " style="left:1332.5px;top:443.5px;font-size:18px;color:#ff8800;font-weight:normal;">盘口</div>
<div class="t " style="left:1416.5px;top:443.5px;font-size:18px;color:#444f66;font-weight:normal;">资金</div>
<div class="t " style="left:1500.5px;top:443.5px;font-size:18px;color:#444f66;font-weight:normal;">异动</div>
<div class="t " style="left:1348px;top:493px;font-size:18px;color:#3a465c;font-weight:normal;">太阳能多晶硅生产商和光伏项目开发商</div>
<div class="t " style="left:1784.5px;top:493px;font-size:18px;color:#2b8cf5;font-weight:normal;">详情</div>
<div class="t " style="left:1348px;top:528.5px;font-size:18px;color:#3a465c;font-weight:normal;word-spacing:1.8px">支持融资 融资保证金率 90%</div>
<div class="t " style="left:1319px;top:595px;font-size:18px;color:#4f5f7b;font-weight:normal;">逐笔成交</div>
<div class="t " style="left:1580.5px;top:595px;font-size:18px;color:#4f5f7b;font-weight:normal;">成交统计</div>
<div class="clip" style="left:1310px;top:632px;width:260px;height:110px">
<div class="t" style="left:3px;top:-10.399999999999977px;font-size:20px;color:#3d4a63;font-weight:normal">13:44</div>
<div class="t" style="left:75px;top:-10.399999999999977px;font-size:20px;color:#ee1111;font-weight:normal">19.380</div>
<div class="t" style="right:47px;top:-10.399999999999977px;font-size:20px;color:#ee1111;font-weight:normal">2.4K</div>
<div class="t" style="left:3px;top:19.5px;font-size:20px;color:#3d4a63;font-weight:normal">13:44</div>
<div class="t" style="left:75px;top:19.5px;font-size:20px;color:#ee1111;font-weight:normal">19.380</div>
<div class="t" style="right:47px;top:19.5px;font-size:20px;color:#ee1111;font-weight:normal">6.8K</div>
<div class="t" style="left:3px;top:49.39999999999998px;font-size:20px;color:#3d4a63;font-weight:normal">13:44</div>
<div class="t" style="left:75px;top:49.39999999999998px;font-size:20px;color:#ee1111;font-weight:normal">19.380</div>
<div class="t" style="right:47px;top:49.39999999999998px;font-size:20px;color:#139a0c;font-weight:normal">2K</div>
<div class="t" style="left:3px;top:79.20000000000005px;font-size:20px;color:#3d4a63;font-weight:bold">13:44</div>
<div class="t" style="left:75px;top:79.20000000000005px;font-size:20px;color:#ee1111;font-weight:bold">19.360</div>
<div class="t" style="right:47px;top:79.20000000000005px;font-size:20px;color:#139a0c;font-weight:bold">400</div>
</div>
<div class="clip" style="left:1570px;top:632px;width:266px;height:110px">
<div class="t" style="left:11px;top:-0.20000000000004547px;font-size:20px;color:#ee1111">19.380</div>
<div class="t" style="right:24.5px;top:-0.20000000000004547px;font-size:20px;color:#3d4a63">0.13%</div>
<div class="t" style="left:11px;top:29.700000000000045px;font-size:20px;color:#ee1111">19.360</div>
<div class="t" style="right:24.5px;top:29.700000000000045px;font-size:20px;color:#3d4a63">0.30%</div>
<div class="t" style="left:11px;top:59.799999999999955px;font-size:20px;color:#ee1111">19.340</div>
<div class="t" style="right:24.5px;top:59.799999999999955px;font-size:20px;color:#3d4a63">0.43%</div>
<div class="t" style="left:11px;top:89.70000000000005px;font-size:20px;color:#ee1111">19.320</div>
</div>
<div class="clip" style="left:1740px;top:722px;width:96px;height:13px"><div class="t" style="right:24.5px;top:0px;font-size:20px;color:#3d4a63">0.18%</div></div>
<div class="clip" style="left:1310px;top:748px;width:526px;height:15px">
<div class="t" style="left:9px;top:4px;font-size:18px;color:#4f5f7b">买盘十档</div>
<div class="t" style="left:270.5px;top:4px;font-size:18px;color:#4f5f7b">卖盘十档</div>
</div>
</body></html>
